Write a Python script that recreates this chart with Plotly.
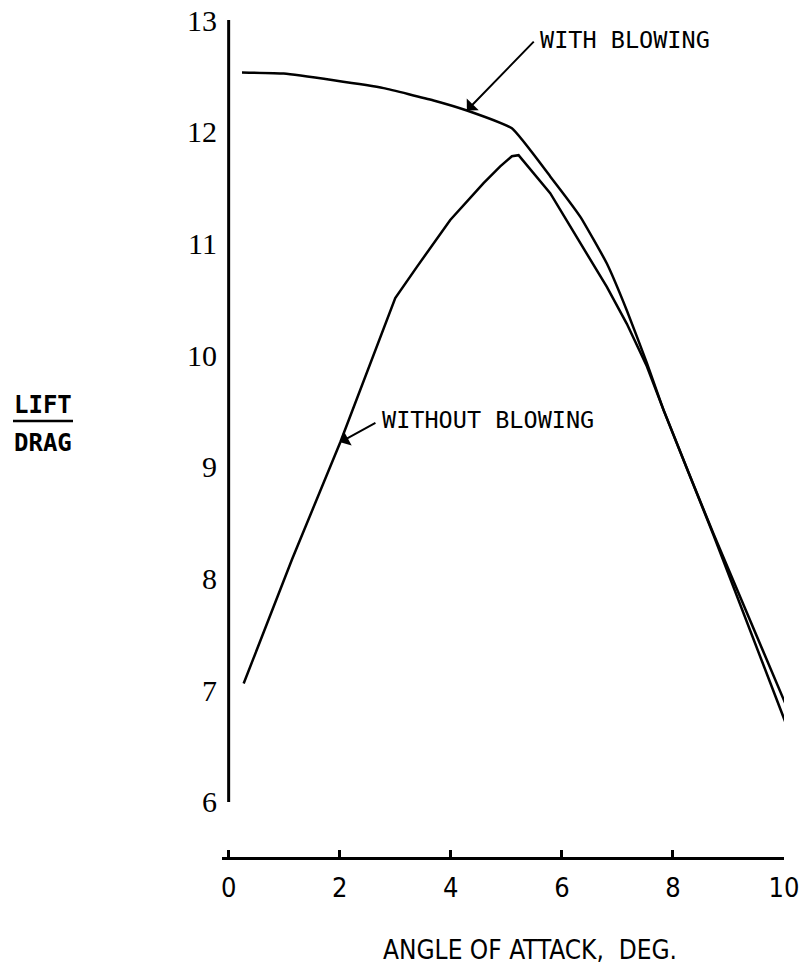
import plotly.graph_objects as go

# ---- data ----
alpha_with = [0.24, 0.99, 1.89, 2.79, 3.69, 4.29, 5.10, 5.79, 6.33, 6.81, 7.17, 7.53, 7.83, 8.73, 10.05]
ld_with = [12.53, 12.52, 12.46, 12.39, 12.28, 12.19, 12.03, 11.60, 11.24, 10.82, 10.40, 9.93, 9.51, 8.40, 6.85]

alpha_without = [0.27, 1.14, 2.01, 3.00, 3.39, 3.99, 4.59, 4.89, 5.10, 5.22, 5.79, 6.33, 6.81, 7.17, 7.53, 7.83, 8.73, 10.02]
ld_without = [7.06, 8.17, 9.22, 10.51, 10.79, 11.21, 11.54, 11.69, 11.78, 11.79, 11.45, 11.00, 10.61, 10.28, 9.90, 9.51, 8.39, 6.72]

x_ticks = [0, 2, 4, 6, 8, 10]
x_tick_labels = ["0", "2", "4", "6", "8", "10"]
y_ticks = [6, 7, 8, 9, 10, 11, 12, 13]
y_tick_labels = ["6", "7", "8", "9", "10", "11", "12", "13"]

# ---- layout geometry (pixels) ----
W, H = 804, 969
L, R, T, B = 222, 20, 20, 112
PW, PH = W - L - R, H - T - B


def px(xp):
    return (xp - L) / PW


def py(yp):
    return 1 - (yp - T) / PH


fig = go.Figure()
fig.add_trace(go.Scatter(x=alpha_with, y=ld_with, mode="lines", line_shape="spline",
                         line=dict(color="black", width=2.5, smoothing=0.4), showlegend=False))
fig.add_trace(go.Scatter(x=alpha_without, y=ld_without, mode="lines",
                         line=dict(color="black", width=2.5), showlegend=False))

label_font = dict(family="DejaVu Sans Mono", size=23.5, color="black")

annotations = [
    # curve labels
    dict(text="WITH BLOWING", xref="paper", yref="paper", x=px(538), y=py(40),
         xanchor="left", yanchor="middle", showarrow=False, font=label_font),
    dict(text="WITHOUT BLOWING", xref="paper", yref="paper", x=px(380), y=py(420),
         xanchor="left", yanchor="middle", showarrow=False, font=label_font),
    # arrows
    dict(text="", x=4.29, y=12.19, ax=5.52, ay=12.82, xref="x", yref="y",
         axref="x", ayref="y", showarrow=True, arrowhead=1, arrowsize=1.4,
         arrowwidth=2, arrowcolor="black"),
    dict(text="", x=2.01, y=9.22, ax=2.67, ay=9.40, xref="x", yref="y",
         axref="x", ayref="y", showarrow=True, arrowhead=1, arrowsize=1.4,
         arrowwidth=2, arrowcolor="black"),
    # axis titles
    dict(text="ANGLE OF ATTACK,\u00a0 DEG.", xref="paper", yref="paper",
         x=px(530), y=py(950), xanchor="center", yanchor="middle", showarrow=False,
         font=dict(family="DejaVu Sans Condensed, Liberation Sans Narrow, Liberation Sans",
                   size=26, color="black")),
    dict(text="<b>LIFT</b>", xref="paper", yref="paper", x=px(43), y=py(405),
         xanchor="center", yanchor="middle", showarrow=False,
         font=dict(family="DejaVu Sans Mono", size=24, color="black")),
    dict(text="<b>DRAG</b>", xref="paper", yref="paper", x=px(43), y=py(443),
         xanchor="center", yanchor="middle", showarrow=False,
         font=dict(family="DejaVu Sans Mono", size=24, color="black")),
]

shapes = [
    # vertical y-axis line from 6 to 13
    dict(type="line", xref="x", yref="y", x0=0, x1=0, y0=6, y1=13,
         line=dict(color="black", width=3)),
    # fraction bar under LIFT
    dict(type="line", xref="paper", yref="paper", x0=px(13), x1=px(73),
         y0=py(421), y1=py(421), line=dict(color="black", width=2.5)),
]

fig.update_layout(
    width=W, height=H,
    margin=dict(l=L, r=R, t=T, b=B, pad=0, autoexpand=False),
    paper_bgcolor="white", plot_bgcolor="white",
    annotations=annotations, shapes=shapes,
    xaxis=dict(range=[-0.12, 10.0], tickvals=x_ticks, ticktext=x_tick_labels,
               automargin=False,
               showgrid=False, zeroline=False, showline=True, linecolor="black",
               linewidth=3, ticks="inside", ticklen=7, tickwidth=3, tickcolor="black",
               ticklabelstandoff=5,
               tickfont=dict(family="DejaVu Sans Condensed, Liberation Sans Narrow, Liberation Sans",
                             size=27, color="black")),
    yaxis=dict(range=[5.507, 13.0], tickvals=y_ticks, ticktext=y_tick_labels,
               automargin=False,
               showgrid=False, zeroline=False, showline=False, ticks="",
               ticklabelstandoff=4,
               tickfont=dict(family="Liberation Serif", size=30, color="black")),
)

fig.write_html("out.html")
